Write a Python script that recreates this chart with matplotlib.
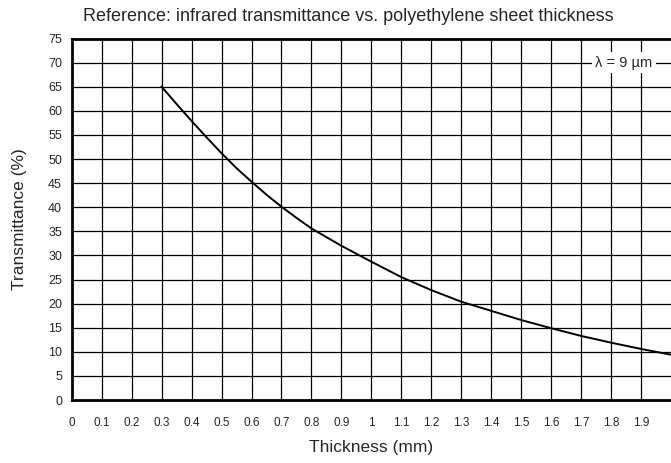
import matplotlib
matplotlib.use("Agg")
import matplotlib.pyplot as plt
import numpy as np

plt.rcParams['font.family'] = ['Liberation Sans', 'DejaVu Sans']
TEXT = "#262626"

# Thickness (mm) and measured transmittance (%) at 9 µm
thickness = [0.3, 0.35, 0.4, 0.45, 0.5, 0.55, 0.6, 0.65, 0.7, 0.75, 0.8,
             0.9, 1.0, 1.1, 1.2, 1.3, 1.4, 1.5, 1.6, 1.7, 1.8, 1.9, 2.0]
transmittance = [65.0, 61.4, 57.9, 54.5, 51.2, 48.1, 45.3, 42.6, 40.1, 37.8, 35.6,
                 32.0, 28.7, 25.5, 22.8, 20.4, 18.5, 16.6, 14.9, 13.3, 11.9, 10.6, 9.4]

x_ticks = [0.0, 0.1, 0.2, 0.3, 0.4, 0.5, 0.6, 0.7, 0.8, 0.9, 1.0,
           1.1, 1.2, 1.3, 1.4, 1.5, 1.6, 1.7, 1.8, 1.9]
x_tick_labels = ["0", "0.1", "0.2", "0.3", "0.4", "0.5", "0.6", "0.7", "0.8", "0.9",
                 "1", "1.1", "1.2", "1.3", "1.4", "1.5", "1.6", "1.7", "1.8", "1.9"]
y_ticks = list(range(0, 80, 5))

fig = plt.figure(figsize=(6.71, 4.63), dpi=100)
ax = fig.add_axes([0.1069, 0.136, 0.8931, 0.7808])

ax.set_xlim(0, 2.0)
ax.set_ylim(0, 75)

# full grid: every 0.1 mm and every 5 %
for xv in np.arange(0.1, 2.0, 0.1):
    ax.axvline(xv, color="black", lw=0.9, zorder=1)
for yv in range(5, 75, 5):
    ax.axhline(yv, color="black", lw=0.9, zorder=1)

ax.plot(thickness, transmittance, color="black", lw=1.4, zorder=3,
        solid_joinstyle="round")

ax.text(1.843, 70, "λ = 9 µm", ha="center", va="center", fontsize=10.5, color=TEXT,
        bbox=dict(facecolor="white", edgecolor="none", pad=2.5), zorder=4)

ax.set_xticks(x_ticks)
ax.set_xticklabels(x_tick_labels)
ax.set_yticks(y_ticks)
ax.tick_params(axis="both", length=0, labelcolor=TEXT)
ax.tick_params(axis="x", pad=12, labelsize=8.5)
ax.tick_params(axis="y", pad=7, labelsize=9)

for side in ["left", "top", "bottom"]:
    ax.spines[side].set_linewidth(2)
ax.spines["right"].set_visible(False)

ax.set_xlabel("Thickness (mm)", fontsize=12.5, labelpad=8, color=TEXT)
ax.set_ylabel("Transmittance (%)", fontsize=12.5, labelpad=15, color=TEXT)
fig.text(0.5195, 0.964, "Reference: infrared transmittance vs. polyethylene sheet thickness",
         ha="center", va="center", fontsize=13, color=TEXT)

fig.savefig("out.png", dpi=100)
